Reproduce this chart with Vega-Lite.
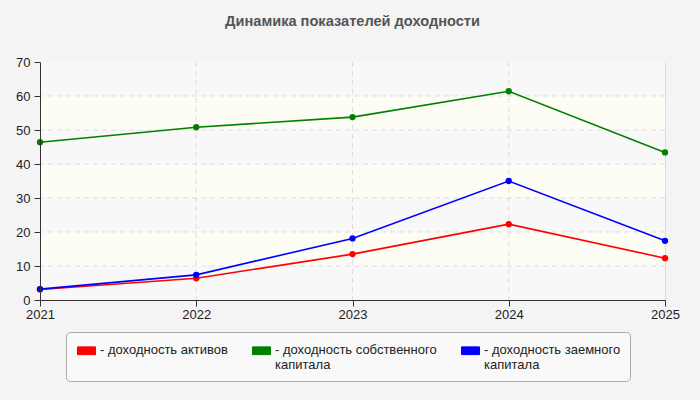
{
  "$schema": "https://vega.github.io/schema/vega-lite/v6.json",
  "width": 625,
  "height": 238,
  "autosize": {"type": "none"},
  "padding": {"left": 40, "top": 62, "right": 35, "bottom": 100},
  "background": "#f4f4f4",
  "title": {
    "text": "Динамика показателей доходности",
    "font": "Liberation Sans",
    "fontSize": 14.6,
    "fontWeight": "bold",
    "color": "#555555",
    "anchor": "middle",
    "frame": "group",
    "offset": 27
  },
  "config": {
    "view": {"stroke": "#dddddd", "strokeWidth": 1},
    "axis": {
      "labelFont": "Liberation Sans",
      "labelFontSize": 13,
      "labelColor": "#222222",
      "domainColor": "#333333",
      "tickColor": "#333333",
      "tickSize": 6,
      "grid": false,
      "title": null
    }
  },
  "datasets": {
    "bands": [
      {"lo": 0, "hi": 10, "kind": "hatch"},
      {"lo": 10, "hi": 20, "kind": "plain"},
      {"lo": 20, "hi": 30, "kind": "hatch"},
      {"lo": 30, "hi": 40, "kind": "plain"},
      {"lo": 40, "hi": 50, "kind": "hatch"},
      {"lo": 50, "hi": 60, "kind": "plain"},
      {"lo": 60, "hi": 70, "kind": "hatch"}
    ],
    "hgrid": [{"v": 10}, {"v": 20}, {"v": 30}, {"v": 40}, {"v": 50}, {"v": 60}],
    "vgrid": [{"year": 2022}, {"year": 2023}, {"year": 2024}],
    "series": [
      {"year": 2021, "series": "доходность активов", "value": 3.1},
      {"year": 2022, "series": "доходность активов", "value": 6.4},
      {"year": 2023, "series": "доходность активов", "value": 13.5},
      {"year": 2024, "series": "доходность активов", "value": 22.3},
      {"year": 2025, "series": "доходность активов", "value": 12.3},
      {"year": 2021, "series": "доходность собственного капитала", "value": 46.4},
      {"year": 2022, "series": "доходность собственного капитала", "value": 50.8},
      {"year": 2023, "series": "доходность собственного капитала", "value": 53.8},
      {"year": 2024, "series": "доходность собственного капитала", "value": 61.4},
      {"year": 2025, "series": "доходность собственного капитала", "value": 43.4},
      {"year": 2021, "series": "доходность заемного капитала", "value": 3.2},
      {"year": 2022, "series": "доходность заемного капитала", "value": 7.4},
      {"year": 2023, "series": "доходность заемного капитала", "value": 18.1},
      {"year": 2024, "series": "доходность заемного капитала", "value": 35.0},
      {"year": 2025, "series": "доходность заемного капитала", "value": 17.4}
    ]
  },
  "layer": [
    {
      "data": {"name": "bands"},
      "mark": {"type": "rect"},
      "encoding": {
        "y": {
          "field": "lo",
          "type": "quantitative",
          "scale": {"domain": [0, 70], "nice": false},
          "axis": {"values": [0, 10, 20, 30, 40, 50, 60, 70], "labelPadding": 4, "zindex": 1}
        },
        "y2": {"field": "hi"},
        "fill": {
          "condition": {"test": "datum.kind === 'hatch'", "value": "#f8f8f8"},
          "value": "#fdfdf5"
        }
      }
    },
    {
      "data": {"name": "hgrid"},
      "mark": {"type": "rule", "color": "#dddddd", "strokeWidth": 1, "strokeDash": [5, 4]},
      "encoding": {
        "y": {
          "field": "v",
          "type": "quantitative",
          "scale": {"domain": [0, 70], "nice": false},
          "axis": {"values": [0, 10, 20, 30, 40, 50, 60, 70], "labelPadding": 4, "zindex": 1}
        }
      }
    },
    {
      "data": {"name": "vgrid"},
      "mark": {"type": "rule", "color": "#dddddd", "strokeWidth": 1, "strokeDash": [5, 4]},
      "encoding": {
        "x": {
          "field": "year",
          "type": "quantitative",
          "scale": {"domain": [2021, 2025], "nice": false, "zero": false},
          "axis": {
            "values": [2021, 2022, 2023, 2024, 2025],
            "format": "d",
            "labelFlush": false,
            "labelOverlap": false,
            "labelPadding": 2,
            "zindex": 1
          }
        }
      }
    },
    {
      "data": {"name": "series"},
      "encoding": {
        "x": {
          "field": "year",
          "type": "quantitative",
          "scale": {"domain": [2021, 2025], "nice": false, "zero": false},
          "axis": {
            "values": [2021, 2022, 2023, 2024, 2025],
            "format": "d",
            "labelFlush": false,
            "labelOverlap": false,
            "labelPadding": 2,
            "zindex": 1
          }
        },
        "y": {
          "field": "value",
          "type": "quantitative",
          "scale": {"domain": [0, 70], "nice": false},
          "axis": {"values": [0, 10, 20, 30, 40, 50, 60, 70], "labelPadding": 4, "zindex": 1}
        },
        "color": {
          "field": "series",
          "type": "nominal",
          "sort": ["доходность активов", "доходность собственного капитала", "доходность заемного капитала"],
          "scale": {
            "domain": ["доходность активов", "доходность собственного капитала", "доходность заемного капитала"],
            "range": ["#ff0000", "#008000", "#0000ff"]
          },
          "legend": {
            "orient": "none",
            "legendX": 26,
            "legendY": 270,
            "direction": "horizontal",
            "columns": 3,
            "gridAlign": "each",
            "columnPadding": 22,
            "title": null,
            "padding": 9,
            "fillColor": "#f9f9f9",
            "strokeColor": "#aaaaaa",
            "cornerRadius": 4,
            "symbolType": "M-1,-0.43H1V0.43H-1Z",
            "symbolSize": 324,
            "symbolOffset": 2,
            "symbolOpacity": 1,
            "labelFont": "Liberation Sans",
            "labelFontSize": 13,
            "labelColor": "#222222",
            "labelOffset": 4,
            "labelLimit": 300,
            "labelBaseline": "top",
            "labelLineHeight": 12,
            "labelExpr": "datum.label === 'доходность собственного капитала' ? ['- доходность собственного', 'капитала'] : datum.label === 'доходность заемного капитала' ? ['- доходность заемного', 'капитала'] : ['- ' + datum.label, '']",
            "encode": {
              "symbols": {
                "update": {
                  "fill": {"scale": "color", "field": "value"},
                  "stroke": {"value": "#999999"},
                  "strokeWidth": {"value": 1}
                }
              },
              "labels": {
                "update": {"dy": {"value": -7}}
              }
            }
          }
        }
      },
      "layer": [
        {"mark": {"type": "line", "strokeWidth": 1.6}},
        {"mark": {"type": "point", "filled": true, "size": 40, "opacity": 1, "shape": "circle"}}
      ]
    }
  ]
}
